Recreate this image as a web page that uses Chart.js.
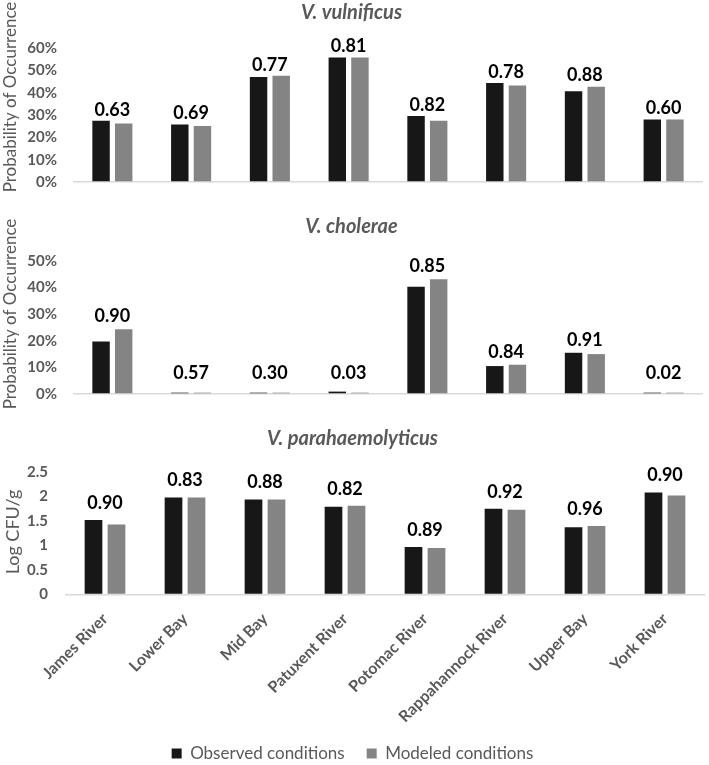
<!DOCTYPE html>
<html><head><meta charset="utf-8">
<script src="https://cdn.jsdelivr.net/npm/chart.js@4"></script>
<style>
html,body{margin:0;padding:0;background:#fff;overflow:hidden;}
#wrap{position:relative;width:709px;height:765px;overflow:hidden;}
.c{position:absolute;left:0;width:709px;}
</style></head><body>
<div id="wrap">
<div class="c" style="top:0;height:207px"><canvas id="c1"></canvas></div>
<div class="c" style="top:210px;height:209px"><canvas id="c2"></canvas></div>
<div class="c" style="top:420px;height:352px"><canvas id="c3"></canvas></div>
</div>
<script>
// ---------- data ----------
const categories = ['James River','Lower Bay','Mid Bay','Patuxent River','Potomac River','Rappahannock River','Upper Bay','York River'];
const seriesNames = ['Observed conditions','Modeled conditions'];
const panelTitles = ['V. vulnificus','V. cholerae','V. parahaemolyticus'];
const yTitles = ['Probability of Occurrence','Probability of Occurrence','Log CFU/g'];

const vulnObserved = [27.4, 25.7, 47.0, 55.7, 29.6, 44.3, 40.6, 28.0];
const vulnModeled  = [26.2, 25.1, 47.6, 55.7, 27.4, 43.2, 42.7, 28.0];
const vulnLabels   = ['0.63','0.69','0.77','0.81','0.82','0.78','0.88','0.60'];

const cholObserved = [19.7, 0.5, 0.5, 0.9, 40.3, 10.5, 15.5, 0.5];
const cholModeled  = [24.3, 0.5, 0.5, 0.5, 43.1, 11.0, 15.0, 0.5];
const cholLabels   = ['0.90','0.57','0.30','0.03','0.85','0.84','0.91','0.02'];

const paraObserved = [1.52, 1.98, 1.94, 1.79, 0.97, 1.75, 1.37, 2.08];
const paraModeled  = [1.43, 1.98, 1.94, 1.81, 0.95, 1.73, 1.40, 2.02];
const paraLabels   = ['0.90','0.83','0.88','0.82','0.89','0.92','0.96','0.90'];

// ---------- styling ----------
Chart.defaults.font.family = 'Lato';
const GRAY_TXT = '#595959';
const OBS_COLOR = '#171717';
const MOD_COLOR = '#848484';

const panelExtras = {
  id: 'panelExtras',
  afterDatasetsDraw(chart, args, o) {
    const ctx = chart.ctx;
    const m0 = chart.getDatasetMeta(0), m1 = chart.getDatasetMeta(1);
    const base = chart.scales.y.getPixelForValue(0);
    ctx.save();
    ctx.font = 'bold 18px Lato';
    ctx.fillStyle = '#000';
    ctx.textAlign = 'center';
    ctx.textBaseline = 'middle';
    o.labels.forEach((t, i) => {
      const top = Math.min(m0.data[i].y, m1.data[i].y);
      const x = (m0.data[i].x + m1.data[i].x) / 2;
      const y = Math.min(top - o.offset, base - o.minOffset);
      ctx.fillText(t, x, y);
    });
    ctx.translate(o.titleX, o.titleY);
    ctx.rotate(-Math.PI / 2);
    ctx.font = o.titleFont;
    ctx.fillStyle = GRAY_TXT;
    ctx.fillText(o.yTitle, 0, 0);
    ctx.restore();
  }
};

function makeChart(id, cfg) {
  return new Chart(document.getElementById(id), {
    type: 'bar',
    data: {
      labels: categories,
      datasets: [
        { label: seriesNames[0], data: cfg.obs, backgroundColor: OBS_COLOR, categoryPercentage: 0.575, barPercentage: 0.77 },
        { label: seriesNames[1], data: cfg.mod, backgroundColor: MOD_COLOR, categoryPercentage: 0.575, barPercentage: 0.77 }
      ]
    },
    options: {
      responsive: true,
      maintainAspectRatio: false,
      animation: false,
      devicePixelRatio: 1,
      layout: { padding: { left: 0, right: cfg.padRight, top: 0, bottom: 0 } },
      plugins: {
        legend: cfg.legend ? {
          display: true, position: 'bottom',
          labels: { boxWidth: 10, boxHeight: 10, padding: 22, color: GRAY_TXT, font: { size: 17, family: 'Lato' } }
        } : { display: false },
        tooltip: { enabled: false },
        title: {
          display: true, text: cfg.title, color: GRAY_TXT,
          font: { family: 'Lato', size: 20, style: 'italic', weight: 'bold' },
          padding: { top: cfg.titleTop, bottom: cfg.titleBottom }
        },
        panelExtras: {
          labels: cfg.labels, offset: cfg.offset, minOffset: cfg.minOffset,
          yTitle: cfg.yTitle, titleX: cfg.titleX, titleY: cfg.titleY, titleFont: cfg.yTitleFont
        }
      },
      scales: {
        x: cfg.xAxis ? {
          grid: { display: false, drawTicks: false },
          border: { display: false },
          ticks: { autoSkip: false, minRotation: 45, maxRotation: 45, padding: 15, color: GRAY_TXT, font: { family: 'Lato', size: 16, weight: 'bold' } },
          afterFit: s => { s.height = cfg.xHeight; }
        } : { display: false },
        y: {
          min: 0, max: cfg.max,
          ticks: { autoSkip: false, stepSize: cfg.step, callback: cfg.fmt, padding: cfg.tickPad, color: GRAY_TXT, font: { family: 'Lato', size: 15, weight: 'bold' } },
          grid: { drawTicks: false, lineWidth: 1.5, color: c => (c.tick && c.tick.value === 0) ? '#d9d9d9' : 'rgba(0,0,0,0)' },
          border: { display: false },
          afterFit: s => { s.width = cfg.yWidth; }
        }
      }
    },
    plugins: [panelExtras]
  });
}

makeChart('c1', {
  obs: vulnObserved, mod: vulnModeled, labels: vulnLabels, title: panelTitles[0], yTitle: yTitles[0],
  max: 60, step: 10, fmt: v => v + '%', yWidth: 73, tickPad: 16, padRight: 6,
  titleTop: 1, titleBottom: 23, offset: 11, minOffset: 21, titleX: 11, titleY: 97, yTitleFont: '17px Lato'
});
makeChart('c2', {
  obs: cholObserved, mod: cholModeled, labels: cholLabels, title: panelTitles[1], yTitle: yTitles[1],
  max: 50, step: 10, fmt: v => v + '%', yWidth: 73, tickPad: 16, padRight: 6,
  titleTop: 5, titleBottom: 22, offset: 13, minOffset: 21, titleX: 11, titleY: 104, yTitleFont: '17px Lato'
});
makeChart('c3', {
  obs: paraObserved, mod: paraModeled, labels: paraLabels, title: panelTitles[2], yTitle: yTitles[2],
  max: 2.5, step: 0.5, fmt: v => String(v), yWidth: 65, tickPad: 17, padRight: 4,
  titleTop: 7, titleBottom: 21, offset: 17, minOffset: 21, titleX: 13, titleY: 112, yTitleFont: '18px Lato',
  xAxis: true, xHeight: 128.5, legend: true
});
</script>
</body></html>
